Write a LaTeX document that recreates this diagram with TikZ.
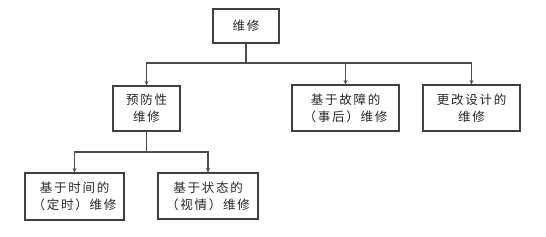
\documentclass[tikz,border=0pt]{standalone}
\usepackage{fontspec}
\newfontfamily\cjk[LetterSpace=14]{Noto Sans CJK SC}
\usetikzlibrary{arrows.meta}
\begin{document}
\begin{tikzpicture}[x=1pt,y=-1pt,
  box/.style={draw=black!75,line width=1.1pt,inner sep=0pt,align=center,
    font=\cjk\fontsize{12.5}{17}\selectfont,text=black!85},
  conn/.style={draw=black!70,line width=1.1pt},
  arr/.style={conn,-{Stealth[length=4.5pt,width=4pt]}}]
\useasboundingbox (0,0) rectangle (546,237);
\node[box,minimum width=66pt,minimum height=34pt] (root) at (246,26) {维修};
\node[box,minimum width=67pt,minimum height=45pt] (prev) at (146.5,108.5) {预防性\\维修};
\node[box,minimum width=107pt,minimum height=46pt] (fault) at (345.5,108) {基于故障的\\（事后）维修};
\node[box,minimum width=97pt,minimum height=46pt] (design) at (471.5,108) {更改设计的\\维修};
\node[box,minimum width=99pt,minimum height=47pt] (time) at (74.5,196.5) {基于时间的\\（定时）维修};
\node[box,minimum width=100pt,minimum height=46pt] (cond) at (208,196) {基于状态的\\（视情）维修};
\coordinate (j1) at (246,63);
\coordinate (j2) at (146.5,152);
\draw[conn] (root.south) -- (j1);
\draw[arr] (j1) -| (prev.north);
\draw[arr] (j1) -| (fault.north);
\draw[arr] (j1) -| (design.north);
\draw[conn] (prev.south) -- (j2);
\draw[arr] (j2) -| (time.north);
\draw[arr] (j2) -| (cond.north);
\end{tikzpicture}
\end{document}
